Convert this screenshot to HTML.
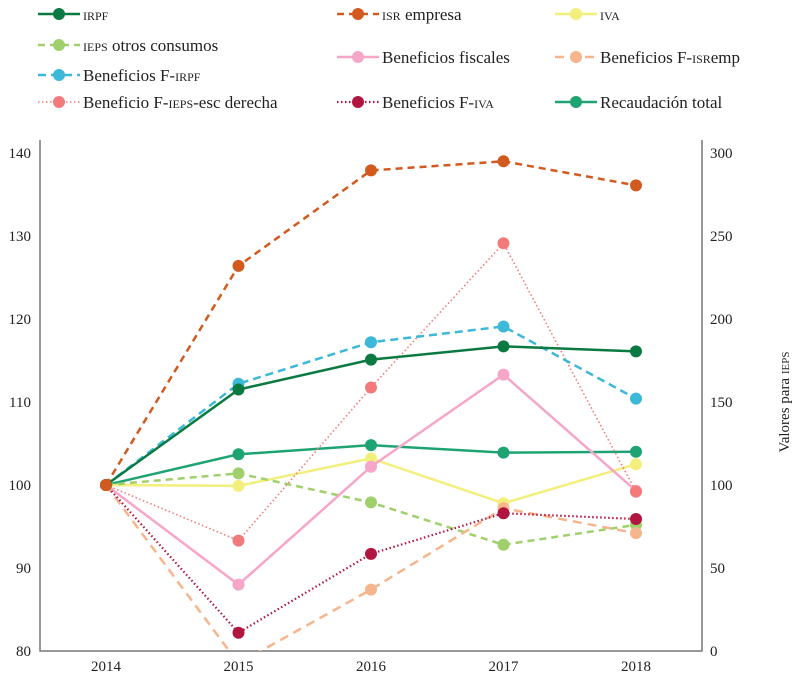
<!DOCTYPE html>
<html><head><meta charset="utf-8"><style>
body{margin:0;background:#fff}
svg{display:block;font-family:"Liberation Serif",serif}
.sc{font-variant:small-caps}
</style></head><body>
<svg id="chart" width="795" height="675" viewBox="0 0 795 675" xmlns="http://www.w3.org/2000/svg">
<defs><clipPath id="plotclip"><rect x="40" y="140" width="662" height="511"/></clipPath></defs>
<g id="legend"></g>
<g id="axes"></g>
<g id="series" clip-path="url(#plotclip)"></g>
</svg>
<script>
const years = ["2014","2015","2016","2017","2018"];
const leftTicks = [80,90,100,110,120,130,140];
const rightTicks = [0,50,100,150,200,250,300];
const irpf = [100,111.5,115.1,116.7,116.1];
const isrEmpresa = [100,126.4,137.9,139.0,136.1];
const iva = [100,99.9,103.2,97.8,102.5];
const iepsOtros = [100,101.4,97.9,92.8,95.2];
const benefFiscales = [100,88.0,102.2,113.3,99.3];
const benefIsremp = [100,78.5,87.4,97.2,94.2];
const benefIrpf = [100,112.2,117.2,119.1,110.4];
const benefIepsRight = [100,66.5,158.7,245.6,96];
const benefIva = [100,82.2,91.7,96.6,95.9];
const recaudacion = [100,103.7,104.8,103.9,104.0];

const NS="http://www.w3.org/2000/svg";
const X0=106, XS=132.5;
function xScale(i){return X0+i*XS;}
function yLeft(v){return 651-(v-80)*8.3;}
function yRight(v){return 651-v*1.66;}
function mk(tag,attrs,parent){const e=document.createElementNS(NS,tag);for(const k in attrs)e.setAttribute(k,attrs[k]);parent.appendChild(e);return e;}

const series=[
 {name:"IRPF",key:"irpf",data:irpf,color:"#0b7a42",dash:"",w:2.5,right:false},
 {name:"ISR empresa",key:"isr-empresa",data:isrEmpresa,color:"#d35a1e",dash:"7,5",w:2.5,right:false},
 {name:"IVA",key:"iva",data:iva,color:"#f3ef7c",dash:"",w:2.5,right:false},
 {name:"IEPS otros consumos",key:"ieps-otros",data:iepsOtros,color:"#9fd06b",dash:"7,5",w:2.5,right:false},
 {name:"Beneficios fiscales",key:"beneficios-fiscales",data:benefFiscales,color:"#f5a6c9",dash:"",w:2.5,right:false},
 {name:"Beneficios F-ISRemp",key:"beneficios-isremp",data:benefIsremp,color:"#f6b58c",dash:"9,6",w:2.5,right:false},
 {name:"Beneficios F-IRPF",key:"beneficios-irpf",data:benefIrpf,color:"#3cb8d9",dash:"8,5",w:2.5,right:false},
 {name:"Beneficio F-IEPS-esc derecha",key:"beneficio-ieps",data:benefIepsRight,color:"#f27a7a",dash:"1.5,2.5",w:1.6,right:true},
 {name:"Beneficios F-IVA",key:"beneficios-iva",data:benefIva,color:"#b0163f",dash:"1.5,2.5",w:2.2,right:false},
 {name:"Recaudación total",key:"recaudacion",data:recaudacion,color:"#1ea472",dash:"",w:2.5,right:false}
];

const ax=document.getElementById('axes');
let e=mk('path',{d:"M40,140 V651 H702 V140",fill:"none",stroke:"#777","stroke-width":1.5},ax);


leftTicks.forEach(t=>{
 const el=mk('text',{x:31,y:yLeft(t)+5,"text-anchor":"end","font-size":15,fill:"#222"},ax);el.textContent=t;
 
 
});
rightTicks.forEach(t=>{
 const el=mk('text',{x:710,y:yRight(t)+5,"font-size":15,fill:"#222"},ax);el.textContent=t;
 
 
});
years.forEach((y,i)=>{
 const el=mk('text',{x:xScale(i),y:671,"text-anchor":"middle","font-size":15,fill:"#222"},ax);el.textContent=y;
 
 
});
e=mk('text',{x:0,y:0,transform:"translate(789,402) rotate(-90)","text-anchor":"middle","font-size":15,fill:"#222"},ax);
e.innerHTML='Valores para <tspan class="sc">ieps</tspan>';



const sg=document.getElementById('series');
const order=[9,2,3,4,5,7,8,6,0,1];
order.forEach(si=>{
 const s=series[si];
 const g=mk('g',{},sg);
 
 
 const pts=s.data.map((v,i)=>[xScale(i),s.right?yRight(v):yLeft(v)]);
 const p=mk('polyline',{points:pts.map(p=>p.join(',')).join(' '),fill:"none",stroke:s.color,"stroke-width":s.w,"stroke-dasharray":s.dash},g);
 
 
 pts.forEach((q,i)=>{
  const c=mk('circle',{cx:q[0],cy:q[1],r:6,fill:s.color},g);
  
  
 });
});

const lg=document.getElementById('legend');
const legPos=[[38,14],[337,14],[555,14],[38,45],[337,57],[555,57],[38,75],[38,102],[337,102],[555,102]];
const labels=[
 '<tspan class="sc">irpf</tspan>',
 '<tspan class="sc">isr</tspan> empresa',
 '<tspan class="sc">iva</tspan>',
 '<tspan class="sc">ieps</tspan> otros consumos',
 'Beneficios fiscales',
 'Beneficios F-<tspan class="sc">isr</tspan>emp',
 'Beneficios F-<tspan class="sc">irpf</tspan>',
 'Beneficio F-<tspan class="sc">ieps</tspan>-esc derecha',
 'Beneficios F-<tspan class="sc">iva</tspan>',
 'Recaudación total'
];
series.forEach((s,i)=>{
 const [x,y]=legPos[i];
 const g=mk('g',{},lg);
 
 
 mk('line',{x1:x,y1:y,x2:x+42,y2:y,stroke:s.color,"stroke-width":s.w,"stroke-dasharray":s.dash},g);
 mk('circle',{cx:x+21,cy:y,r:6,fill:s.color},g);
 const t=mk('text',{x:x+45,y:y+6,"font-size":17,fill:"#222"},g);
 t.innerHTML=labels[i];
});
</script>
</body></html>
